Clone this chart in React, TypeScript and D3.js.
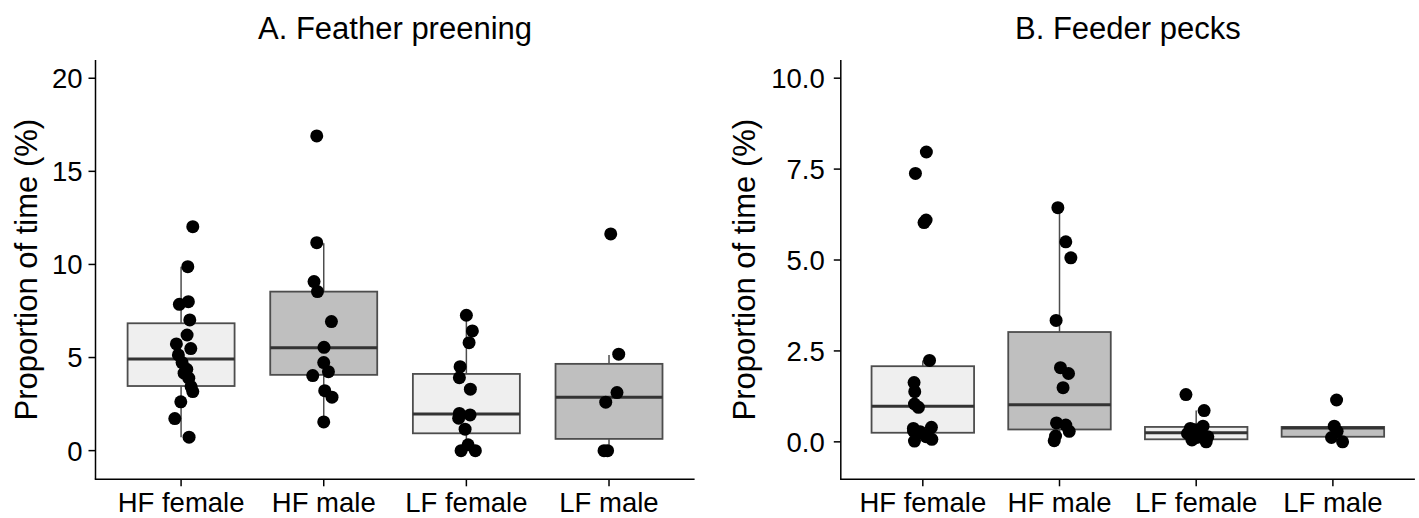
import { useEffect, useRef } from 'react'
import * as d3 from 'd3'

const GROUPS = ['HF female', 'HF male', 'LF female', 'LF male']
const FILLS = ['#efefef', '#bfbfbf', '#efefef', '#bfbfbf']

// A. Feather preening: box stats per group
const PREEN_LO = [0.72, 1.54, 0, 0]
const PREEN_Q1 = [3.47, 4.07, 0.93, 0.63]
const PREEN_MED = [4.92, 5.53, 1.97, 2.87]
const PREEN_Q3 = [6.84, 8.54, 4.12, 4.66]
const PREEN_HI = [9.88, 11.14, 7.27, 5.14]
// [group, jitter (category units), value]
const PREEN_POINTS: [number, number, number][] = [
  [0, 0.082, 12.03], [0, 0.047, 9.88], [0, -0.012, 7.86], [0, 0.051, 8.0],
  [0, 0.061, 7.02], [0, 0.042, 6.21], [0, -0.033, 5.73], [0, 0.068, 5.48],
  [0, -0.019, 5.14], [0, 0.007, 4.73], [0, 0.04, 4.37], [0, 0.021, 4.16],
  [0, 0.054, 3.89], [0, 0.07, 3.44], [0, 0.082, 3.17], [0, -0.002, 2.62],
  [0, -0.044, 1.72], [0, 0.056, 0.72],
  [1, -0.049, 16.9], [1, -0.049, 11.17], [1, -0.068, 9.08], [1, -0.044, 8.54],
  [1, 0.054, 6.93], [1, 0.002, 5.55], [1, 0, 4.73], [1, 0.033, 4.24],
  [1, -0.077, 4.03], [1, 0.007, 3.22], [1, 0.058, 2.87], [1, 0, 1.54],
  [2, 0, 7.27], [2, 0.042, 6.43], [2, 0.019, 5.8], [2, -0.044, 4.51],
  [2, -0.049, 3.92], [2, 0.028, 3.3], [2, -0.049, 2.0], [2, 0.026, 1.92],
  [2, -0.054, 1.74], [2, -0.009, 1.15], [2, 0.012, 0.31], [2, -0.037, 0],
  [2, 0.063, 0],
  [3, 0.012, 11.64], [3, 0.068, 5.18], [3, 0.056, 3.12], [3, -0.023, 2.6],
  [3, -0.035, 0], [3, -0.01, 0],
]
const PREEN_TICKS = [0, 5, 10, 15, 20]
const PREEN_TICK_LABELS = ['0', '5', '10', '15', '20']

// B. Feeder pecks
const PECK_LO = [0, 0, 0, 0]
const PECK_Q1 = [0.25, 0.34, 0.07, 0.14]
const PECK_MED = [0.98, 1.02, 0.25, 0.38]
const PECK_Q3 = [2.08, 3.02, 0.41, 0.41]
const PECK_HI = [2.24, 6.44, 0.86, 0.43]
const PECK_POINTS: [number, number, number][] = [
  [0, 0.026, 7.97], [0, -0.054, 7.38], [0, 0.024, 6.1], [0, 0.009, 6.03],
  [0, 0.049, 2.24], [0, -0.064, 1.63], [0, -0.059, 1.38], [0, -0.061, 1.04],
  [0, -0.032, 0.95], [0, -0.069, 0.37], [0, 0.063, 0.4], [0, -0.02, 0.28],
  [0, 0.024, 0.14], [0, -0.061, 0.02], [0, 0.066, 0.07], [0, -0.068, 0.3],
  [1, -0.012, 6.44], [1, 0.046, 5.5], [1, 0.083, 5.06], [1, -0.025, 3.34],
  [1, 0.007, 2.04], [1, 0.066, 1.88], [1, 0.026, 1.49], [1, -0.022, 0.52],
  [1, 0.046, 0.46], [1, 0.071, 0.29], [1, -0.029, 0.16], [1, -0.039, 0.03],
  [2, -0.075, 1.3], [2, 0.058, 0.86], [2, -0.043, 0.37], [2, 0.05, 0.43],
  [2, -0.064, 0.23], [2, 0.017, 0.28], [2, -0.031, 0.05], [2, 0.073, 0],
  [2, 0.005, 0.12], [2, 0.085, 0.14], [2, -0.01, 0.33],
  [3, 0.027, 1.15], [3, 0.01, 0.43], [3, 0.031, 0.29], [3, -0.01, 0.12],
  [3, 0.071, 0],
]
const PECK_TICKS = [0, 2.5, 5, 7.5, 10]
const PECK_TICK_LABELS = ['0.0', '2.5', '5.0', '7.5', '10.0']

const FONT = '"Liberation Sans", Arial, Helvetica, sans-serif'

interface PanelSpec {
  title: string
  left: number
  right: number
  yDomain: [number, number]
  lo: number[]
  q1: number[]
  med: number[]
  q3: number[]
  hi: number[]
  points: [number, number, number][]
  ticks: number[]
  tickLabels: string[]
  labelGap: number
  yTitleX: number
}

const PANELS: PanelSpec[] = [
  {
    title: 'A. Feather preening', left: 95.5, right: 694.6, yDomain: [-1.54, 20.98],
    lo: PREEN_LO, q1: PREEN_Q1, med: PREEN_MED, q3: PREEN_Q3, hi: PREEN_HI,
    points: PREEN_POINTS, ticks: PREEN_TICKS, tickLabels: PREEN_TICK_LABELS,
    labelGap: 13, yTitleX: 37,
  },
  {
    title: 'B. Feeder pecks', left: 840.8, right: 1414.9, yDomain: [-1.03, 10.5],
    lo: PECK_LO, q1: PECK_Q1, med: PECK_MED, q3: PECK_Q3, hi: PECK_HI,
    points: PECK_POINTS, ticks: PECK_TICKS, tickLabels: PECK_TICK_LABELS,
    labelGap: 16, yTitleX: 755,
  },
]

const TOP = 60
const BOTTOM = 479.3

export default function App() {
  const svgRef = useRef<SVGSVGElement>(null)

  useEffect(() => {
    if (!svgRef.current) return
    const svg = d3.select(svgRef.current)
    svg.selectAll('*').remove()

    svg.append('rect').attr('width', 1419).attr('height', 518).attr('fill', '#fff')

    PANELS.forEach((p) => {
      const x = d3.scaleBand<string>()
        .domain(GROUPS)
        .range([p.left, p.right])
        .paddingInner(0.25)
        .paddingOuter(0.225)
      const step = x.step()
      const bw = x.bandwidth()
      const cx = (i: number) => (x(GROUPS[i]) as number) + bw / 2
      const y = d3.scaleLinear().domain(p.yDomain).range([BOTTOM, TOP])

      const g = svg.append('g')

      // Boxplots
      GROUPS.forEach((_, i) => {
        const c = cx(i)
        g.append('line')
          .attr('x1', c).attr('x2', c)
          .attr('y1', y(p.q3[i])).attr('y2', y(p.hi[i]))
          .attr('stroke', '#4d4d4d').attr('stroke-width', 1.5)
        g.append('line')
          .attr('x1', c).attr('x2', c)
          .attr('y1', y(p.q1[i])).attr('y2', y(p.lo[i]))
          .attr('stroke', '#4d4d4d').attr('stroke-width', 1.5)
        g.append('rect')
          .attr('x', c - bw / 2).attr('width', bw)
          .attr('y', y(p.q3[i])).attr('height', y(p.q1[i]) - y(p.q3[i]))
          .attr('fill', FILLS[i])
          .attr('stroke', '#4d4d4d').attr('stroke-width', 1.8)
        g.append('line')
          .attr('x1', c - bw / 2).attr('x2', c + bw / 2)
          .attr('y1', y(p.med[i])).attr('y2', y(p.med[i]))
          .attr('stroke', '#333').attr('stroke-width', 3)
      })

      // Points
      g.selectAll('circle.pt')
        .data(p.points)
        .join('circle')
        .attr('class', 'pt')
        .attr('cx', (d) => cx(d[0]) + d[1] * step)
        .attr('cy', (d) => y(d[2]))
        .attr('r', 6.5)
        .attr('fill', '#000')

      // Axes lines
      g.append('line')
        .attr('x1', p.left).attr('x2', p.left)
        .attr('y1', TOP).attr('y2', BOTTOM)
        .attr('stroke', '#000').attr('stroke-width', 1.5)
      g.append('line')
        .attr('x1', p.left - 0.75).attr('x2', p.right)
        .attr('y1', BOTTOM).attr('y2', BOTTOM)
        .attr('stroke', '#000').attr('stroke-width', 1.5)

      // Y ticks
      p.ticks.forEach((t, k) => {
        g.append('line')
          .attr('x1', p.left - 7).attr('x2', p.left)
          .attr('y1', y(t)).attr('y2', y(t))
          .attr('stroke', '#000').attr('stroke-width', 1.5)
        g.append('text')
          .attr('x', p.left - p.labelGap)
          .attr('y', y(t))
          .attr('dy', '0.36em')
          .attr('text-anchor', 'end')
          .attr('font-family', FONT)
          .attr('font-size', 27.5)
          .attr('fill', '#000')
          .text(p.tickLabels[k])
      })

      // X ticks
      GROUPS.forEach((name, i) => {
        const c = cx(i)
        g.append('line')
          .attr('x1', c).attr('x2', c)
          .attr('y1', BOTTOM).attr('y2', BOTTOM + 7)
          .attr('stroke', '#000').attr('stroke-width', 1.5)
        g.append('text')
          .attr('x', c)
          .attr('y', 512)
          .attr('text-anchor', 'middle')
          .attr('font-family', FONT)
          .attr('font-size', 27.5)
          .attr('fill', '#000')
          .text(name)
      })

      // Y title
      g.append('text')
        .attr('transform', `translate(${p.yTitleX},${(TOP + BOTTOM) / 2}) rotate(-90)`)
        .attr('text-anchor', 'middle')
        .attr('font-family', FONT)
        .attr('font-size', 31)
        .attr('fill', '#000')
        .text('Proportion of time (%)')

      // Panel title
      g.append('text')
        .attr('x', (p.left + p.right) / 2)
        .attr('y', 39)
        .attr('text-anchor', 'middle')
        .attr('font-family', FONT)
        .attr('font-size', 31)
        .attr('fill', '#000')
        .text(p.title)
    })
  }, [])

  return (
    <svg
      ref={svgRef}
      width={1419}
      height={518}
      style={{ position: 'absolute', left: 0, top: 0, display: 'block' }}
    />
  )
}
